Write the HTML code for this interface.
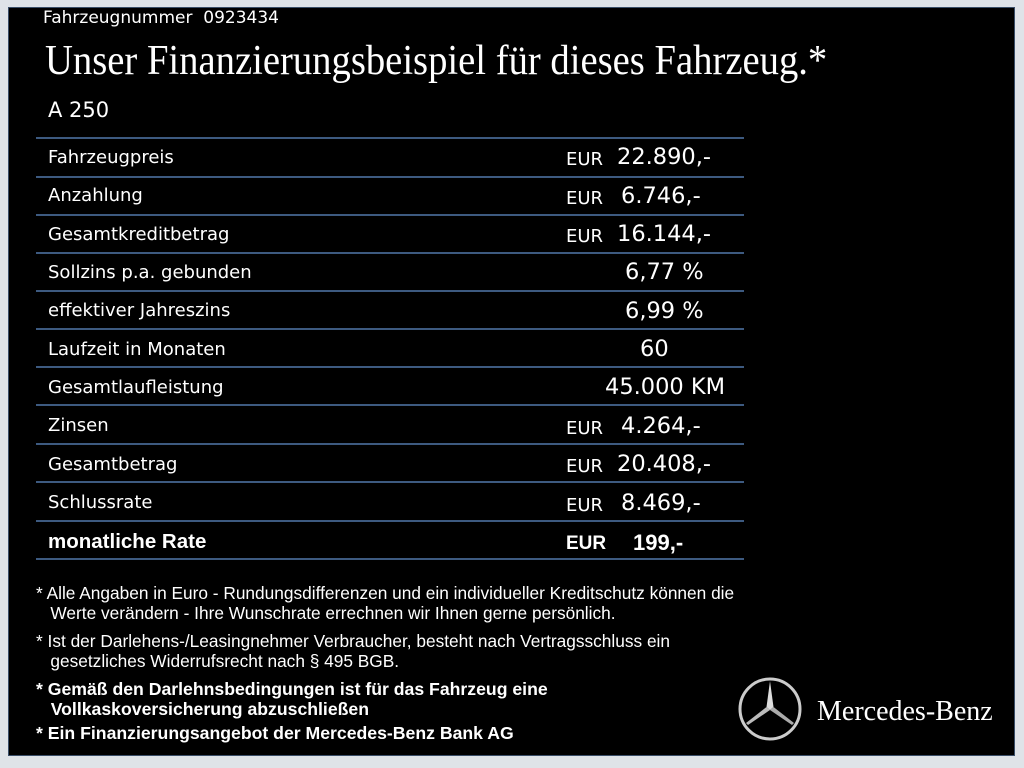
<!DOCTYPE html>
<html><head><meta charset="utf-8"><style>
html,body{margin:0;padding:0;}
body{width:1024px;height:768px;background:#dfe3e8;position:relative;overflow:hidden;font-family:"DejaVu Sans","Liberation Sans",sans-serif;color:#fff;}
#panel{position:absolute;left:8px;top:7px;width:1007px;height:749px;background:#000;border:1px solid #3a4e68;box-sizing:border-box;}
.t{position:absolute;white-space:nowrap;}
.line{position:absolute;left:36px;width:708px;height:2px;background:#3d5a80;}
.lab{font-size:18px;left:48px;}
.eur{font-size:18px;left:566px;}
.val{font-size:22.5px;}
.foot{font-family:"Liberation Sans",sans-serif;font-size:17.3px;line-height:20px;left:36px;}
.fb{font-size:17.65px;font-weight:bold;}
</style></head><body>
<div id="panel"></div>
<div class="t" style="left:43px;top:8px;font-size:17px;">Fahrzeugnummer&nbsp; 0923434</div>
<div class="t" style="left:45px;top:37px;font-family:'Liberation Serif',serif;font-size:42px;transform:scaleX(0.92);transform-origin:0 0;">Unser Finanzierungsbeispiel für dieses Fahrzeug.*</div>
<div class="t" style="left:48px;top:98px;font-size:21px;">A 250</div>

<div class="line" style="top:137px"></div>
<div class="line" style="top:176px"></div>
<div class="line" style="top:214px"></div>
<div class="line" style="top:252px"></div>
<div class="line" style="top:290px"></div>
<div class="line" style="top:328px"></div>
<div class="line" style="top:366px"></div>
<div class="line" style="top:404px"></div>
<div class="line" style="top:443px"></div>
<div class="line" style="top:481px"></div>
<div class="line" style="top:520px"></div>
<div class="line" style="top:558px"></div>

<div class="t lab" style="top:147px">Fahrzeugpreis</div><div class="t eur" style="top:149px">EUR</div><div class="t val" style="left:617px;top:144px">22.890,-</div>
<div class="t lab" style="top:185px">Anzahlung</div><div class="t eur" style="top:188px">EUR</div><div class="t val" style="left:621px;top:183px">6.746,-</div>
<div class="t lab" style="top:224px">Gesamtkreditbetrag</div><div class="t eur" style="top:226px">EUR</div><div class="t val" style="left:617px;top:221px">16.144,-</div>
<div class="t lab" style="top:262px">Sollzins p.a. gebunden</div><div class="t val" style="left:625px;top:259px">6,77 %</div>
<div class="t lab" style="top:300px">effektiver Jahreszins</div><div class="t val" style="left:625px;top:298px">6,99 %</div>
<div class="t lab" style="top:339px">Laufzeit in Monaten</div><div class="t val" style="left:640px;top:336px">60</div>
<div class="t lab" style="top:377px">Gesamtlaufleistung</div><div class="t val" style="left:605px;top:374px">45.000 KM</div>
<div class="t lab" style="top:415px">Zinsen</div><div class="t eur" style="top:418px">EUR</div><div class="t val" style="left:621px;top:413px">4.264,-</div>
<div class="t lab" style="top:454px">Gesamtbetrag</div><div class="t eur" style="top:456px">EUR</div><div class="t val" style="left:617px;top:451px">20.408,-</div>
<div class="t lab" style="top:492px">Schlussrate</div><div class="t eur" style="top:495px">EUR</div><div class="t val" style="left:621px;top:490px">8.469,-</div>
<div class="t" style="left:48px;top:530px;font-family:'Liberation Sans',sans-serif;font-weight:bold;font-size:20.5px;">monatliche Rate</div>
<div class="t" style="left:566px;top:533px;font-family:'Liberation Sans',sans-serif;font-weight:bold;font-size:19px;">EUR</div>
<div class="t" style="left:633px;top:530px;font-family:'Liberation Sans',sans-serif;font-weight:bold;font-size:22px;">199,-</div>

<div class="t foot" style="top:583px">* Alle Angaben in Euro - Rundungsdifferenzen und ein individueller Kreditschutz können die<br>&nbsp;&nbsp;&nbsp;Werte verändern - Ihre Wunschrate errechnen wir Ihnen gerne persönlich.</div>
<div class="t foot" style="top:631px">* Ist der Darlehens-/Leasingnehmer Verbraucher, besteht nach Vertragsschluss ein<br>&nbsp;&nbsp;&nbsp;gesetzliches Widerrufsrecht nach § 495 BGB.</div>
<div class="t foot fb" style="top:679px">* Gemäß den Darlehnsbedingungen ist für das Fahrzeug eine<br>&nbsp;&nbsp;&nbsp;Vollkaskoversicherung abzuschließen</div>
<div class="t foot fb" style="top:723px">* Ein Finanzierungsangebot der Mercedes-Benz Bank AG</div>

<svg style="position:absolute;left:735px;top:674px" width="70" height="70" viewBox="0 0 70 70">
<circle cx="35" cy="35" r="30" fill="none" stroke="#ccc" stroke-width="3"/>
<polygon points="35,7 38.5,33 35,36 31.5,33" fill="#ddd"/>
<polygon points="35,36 38.5,33 59,49 57,51" fill="#aaa"/>
<polygon points="35,36 31.5,33 11,49 13,51" fill="#bbb"/>
</svg>
<div class="t" style="left:817px;top:696px;font-family:'Liberation Serif',serif;font-size:28px;">Mercedes-Benz</div>
</body></html>
